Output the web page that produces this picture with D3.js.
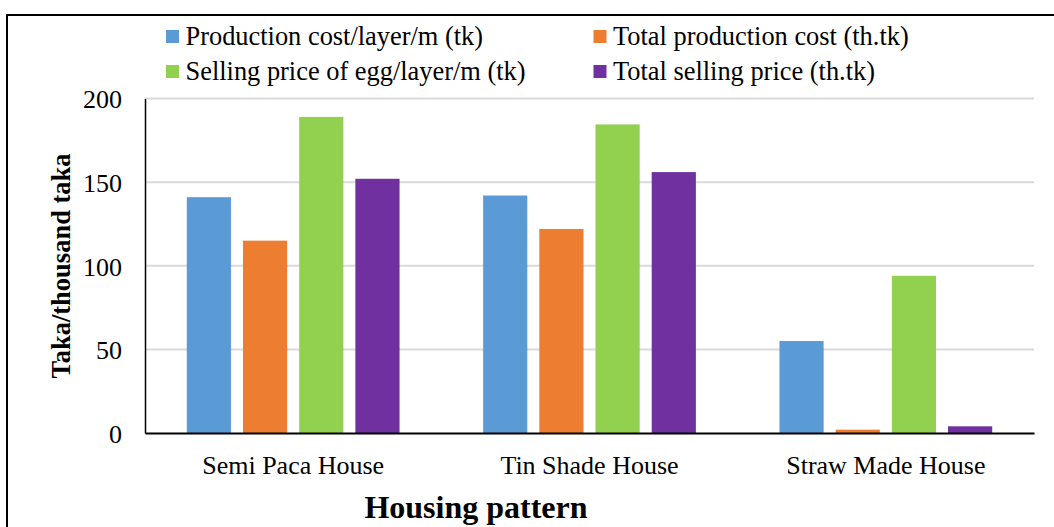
<!DOCTYPE html>
<html><head><meta charset="utf-8">
<script src="https://cdn.jsdelivr.net/npm/d3@7"></script>
<style>body{margin:0;background:#fff}svg{display:block}text{font-family:"Liberation Serif","Times New Roman",serif}</style>
</head><body><svg id="c" width="1054" height="527"></svg>
<script>
const categories = ["Semi Paca House", "Tin Shade House", "Straw Made House"];
const seriesNames = ["Production cost/layer/m (tk)", "Total production cost (th.tk)", "Selling price of egg/layer/m (tk)", "Total selling price (th.tk)"];
const productionCostPerLayer = [141, 142, 55];
const totalProductionCost = [115, 122, 2];
const sellingPricePerLayer = [189, 184.5, 94];
const totalSellingPrice = [152, 156, 4];
const yTicks = [0, 50, 100, 150, 200];
const colors = ["#5b9bd5", "#ed7d31", "#92d050", "#7030a0"];

(function () {
const seriesValues = [productionCostPerLayer, totalProductionCost, sellingPricePerLayer, totalSellingPrice];
const svg = d3.select("#c");
const pLeft = 145, pRight = 1034, pTop = 98.5, pBottom = 433;

// outer border (extends past right/bottom edges)
svg.append("rect").attr("x", 7).attr("y", 15).attr("width", 1060).attr("height", 530)
  .attr("fill", "none").attr("stroke", "#000").attr("stroke-width", 2);

const y = d3.scaleLinear().domain([0, 200]).range([pBottom, pTop]);
const x0 = d3.scaleBand().domain(categories).range([pLeft, pRight]).padding(0);
const inner = 41.8;
const x1 = d3.scaleBand().domain(d3.range(4)).range([inner, x0.bandwidth() - inner]).paddingInner(0.214).paddingOuter(0);

// gridlines
svg.append("g").selectAll("line").data(yTicks.filter(d => d > 0)).join("line")
  .attr("x1", pLeft).attr("x2", pRight).attr("y1", d => y(d)).attr("y2", d => y(d))
  .attr("stroke", "#d9d9d9").attr("stroke-width", 2);

// bars
const g = svg.append("g");
categories.forEach((c, ci) => {
  seriesValues.forEach((vals, si) => {
    g.append("rect")
      .attr("x", x0(c) + x1(si)).attr("width", x1.bandwidth())
      .attr("y", y(vals[ci])).attr("height", y(0) - y(vals[ci]))
      .attr("fill", colors[si]);
  });
});

// axes
const yAxis = d3.axisLeft(y).tickValues(yTicks).tickSize(0).tickPadding(23);
const ya = svg.append("g").attr("transform", `translate(${pLeft},0)`).call(yAxis);
ya.select(".domain").attr("stroke", "#000").attr("stroke-width", 1.5);
ya.selectAll("text").attr("font-size", 26).attr("fill", "#000").attr("font-family", "Liberation Serif").attr("dy", "0.36em");

const xAxis = d3.axisBottom(x0).tickSize(0).tickPadding(23);
const xa = svg.append("g").attr("transform", `translate(0,${pBottom})`).call(xAxis);
xa.select(".domain").attr("stroke", "#000").attr("stroke-width", 2);
xa.selectAll("text").attr("font-size", 26).attr("fill", "#000").attr("font-family", "Liberation Serif");

// axis titles
svg.append("text").attr("transform", `translate(70,266) rotate(-90)`).attr("text-anchor", "middle")
  .attr("font-size", 26.5).attr("font-weight", "bold").text("Taka/thousand taka");
svg.append("text").attr("x", 476).attr("y", 518).attr("text-anchor", "middle")
  .attr("font-size", 32).attr("font-weight", "bold").text("Housing pattern");

// legend
const legPos = [[166, 36.5], [593.5, 36.5], [166, 71.5], [593.5, 71.5]];
seriesNames.forEach((n, i) => {
  const lg = svg.append("g").attr("transform", `translate(${legPos[i][0]},${legPos[i][1]})`);
  lg.append("rect").attr("x", 0).attr("y", -6.5).attr("width", 13).attr("height", 13).attr("fill", colors[i]);
  lg.append("text").attr("x", 19.5).attr("y", 0).attr("dy", "0.32em").attr("font-size", 26.4).text(n);
});
})();
</script></body></html>
